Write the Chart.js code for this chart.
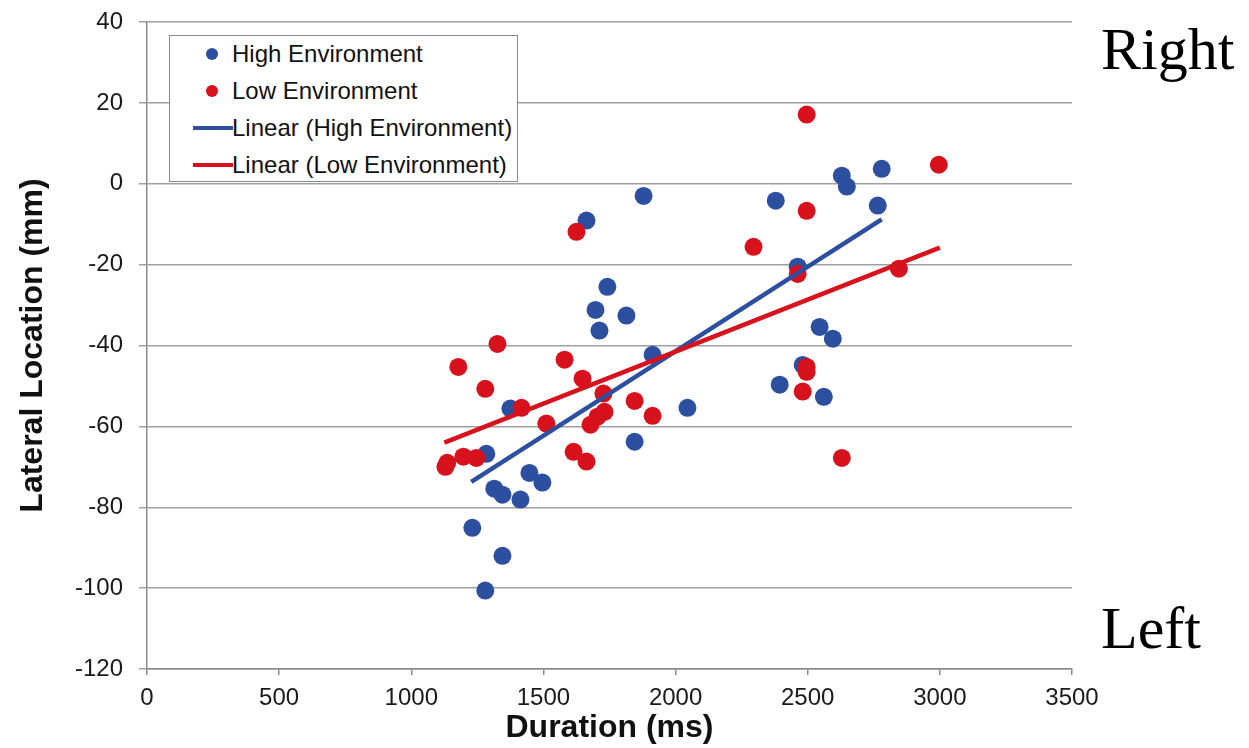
<!DOCTYPE html>
<html>
<head>
<meta charset="utf-8">
<script src="https://cdn.jsdelivr.net/npm/chart.js@4.4.0/dist/chart.umd.min.js"></script>
<style>
    body { margin: 0; background: #fff; }
    #wrap { position: relative; width: 1249px; height: 748px; font-family: "Liberation Sans", Arial, sans-serif; }
    #legend {
        position: absolute; left: 169px; top: 35px; width: 349px; height: 147px;
        border: 1.5px solid #8a8a8a; background: #fff; box-sizing: border-box;
    }
    .item { position: absolute; left: 0; height: 30px; font-size: 24px; color: #111; line-height: 30px; }
    .item span.txt { position: absolute; left: 62px; white-space: nowrap; }
    .dot { position: absolute; left: 36px; top: 9px; width: 12px; height: 12px; border-radius: 50%; }
    .bar { position: absolute; left: 23px; top: 13px; width: 40px; height: 4px; }
    .side { position: absolute; font-family: "Liberation Serif", "Times New Roman", serif; font-size: 60px; color: #000; line-height: 1; }
</style>
</head>
<body>
<div id="wrap">
    <canvas id="chart" width="1249" height="748"></canvas>
    <div id="legend"></div>
    <div class="side" style="left:1101px; top:19px;">Right</div>
    <div class="side" style="left:1101px; top:598px;">Left</div>
</div>
<script>
// Scatter data (Duration ms, Lateral mm)
const highX = [1663, 1879, 2379, 2629, 2648, 2780, 2765, 2462, 2545, 2595, 2481, 2394, 2561,
               1742, 1697, 1814, 1712, 1913, 2045, 1845, 1375, 1284, 1314, 1345, 1447, 1496,
               1413, 1231, 1345, 1280];
const highY = [-9.1, -3.0, -4.2, 2.0, -0.7, 3.7, -5.4, -20.5, -35.4, -38.3, -44.8, -49.7, -52.7,
               -25.5, -31.2, -32.6, -36.3, -42.3, -55.4, -63.8, -55.6, -66.8, -75.4, -76.9, -71.5, -73.9,
               -78.1, -85.1, -92.0, -100.6];

const lowX = [2496, 2996, 2496, 2295, 2462, 2845, 2496, 2496, 2481, 2629, 1625, 1326, 1178, 1280,
              1417, 1580, 1648, 1727, 1731, 1705, 1678, 1511, 1845, 1913, 1614, 1663, 1197, 1246,
              1129, 1136];
const lowY = [17.1, 4.7, -6.7, -15.6, -22.3, -21.0, -45.3, -46.5, -51.4, -67.8, -11.9, -39.6, -45.3, -50.7,
              -55.4, -43.5, -48.2, -51.9, -56.4, -57.6, -59.6, -59.3, -53.7, -57.4, -66.3, -68.7, -67.5, -67.8,
              -70.0, -69.0];

// Linear trend line ends
const highTrendX = [1227, 2780];
const highTrendY = [-73.7, -8.8];
const lowTrendX = [1125, 3000];
const lowTrendY = [-64.0, -15.8];

// Axis ticks
const xTicks = [0, 500, 1000, 1500, 2000, 2500, 3000, 3500];
const yTicks = [-120, -100, -80, -60, -40, -20, 0, 20, 40];

const BLUE = '#2d4f9f';
const RED = '#d7121c';

const toPts = (xs, ys) => xs.map((x, i) => ({ x: x, y: ys[i] }));

const datasets = [
    { label: 'High Environment', data: toPts(highX, highY), backgroundColor: BLUE, borderWidth: 0,
      pointRadius: 9, pointHoverRadius: 9, order: 4, kind: 'dot' },
    { label: 'Low Environment', data: toPts(lowX, lowY), backgroundColor: RED, borderWidth: 0,
      pointRadius: 9, pointHoverRadius: 9, order: 3, kind: 'dot' },
    { label: 'Linear (High Environment)', type: 'line', data: toPts(highTrendX, highTrendY),
      borderColor: BLUE, borderWidth: 4.5, pointRadius: 0, fill: false, order: 2, kind: 'bar' },
    { label: 'Linear (Low Environment)', type: 'line', data: toPts(lowTrendX, lowTrendY),
      borderColor: RED, borderWidth: 4.5, pointRadius: 0, fill: false, order: 1, kind: 'bar' }
];

// HTML legend
const legend = document.getElementById('legend');
const rowTops = [3, 40, 77, 114];
datasets.forEach((ds, i) => {
    const row = document.createElement('div');
    row.className = 'item';
    row.style.top = rowTops[i] + 'px';
    const mark = document.createElement('div');
    mark.className = ds.kind;
    mark.style.background = ds.kind === 'dot' ? ds.backgroundColor : ds.borderColor;
    const txt = document.createElement('span');
    txt.className = 'txt';
    txt.textContent = ds.label;
    row.appendChild(mark);
    row.appendChild(txt);
    legend.appendChild(row);
});

const ctx = document.getElementById('chart').getContext('2d');
new Chart(ctx, {
    type: 'scatter',
    data: { datasets: datasets },
    options: {
        responsive: false,
        animation: false,
        layout: { padding: { top: 22, right: 177, left: 0, bottom: 0 } },
        plugins: { legend: { display: false }, tooltip: { enabled: false } },
        scales: {
            x: {
                type: 'linear',
                min: 0, max: 3500,
                afterBuildTicks: (s) => { s.ticks = xTicks.map(v => ({ value: v })); },
                afterFit: (s) => { s.height = 79; s.paddingLeft = 0; s.paddingRight = 0; },
                ticks: { color: '#1a1a1a', font: { family: 'Liberation Sans, Arial', size: 24 }, padding: 9,
                         maxRotation: 0, callback: (v) => String(v) },
                grid: { drawOnChartArea: false, drawTicks: true, tickLength: 6, color: '#8a8a8a', lineWidth: 1.5 },
                border: { color: '#8a8a8a', width: 1.5 },
                title: { display: true, text: 'Duration (ms)', color: '#111',
                         font: { family: 'Liberation Sans, Arial', size: 32, weight: 'bold' },
                         padding: { top: 0, bottom: 1 } }
            },
            y: {
                type: 'linear',
                min: -120, max: 40,
                afterBuildTicks: (s) => { s.ticks = yTicks.map(v => ({ value: v })); },
                afterFit: (s) => { s.width = 147; s.paddingTop = 0; s.paddingBottom = 0; },
                ticks: { color: '#1a1a1a', font: { family: 'Liberation Sans, Arial', size: 24 }, padding: 16,
                         callback: (v) => String(v) },
                grid: { color: '#a0a0a0', lineWidth: 1.5, tickLength: 8 },
                border: { color: '#8a8a8a', width: 1.5 },
                title: { display: true, text: 'Lateral Location (mm)', color: '#111',
                         font: { family: 'Liberation Sans, Arial', size: 32, weight: 'bold' },
                         padding: { top: 14, bottom: 0 } }
            }
        }
    }
});
</script>
</body>
</html>
